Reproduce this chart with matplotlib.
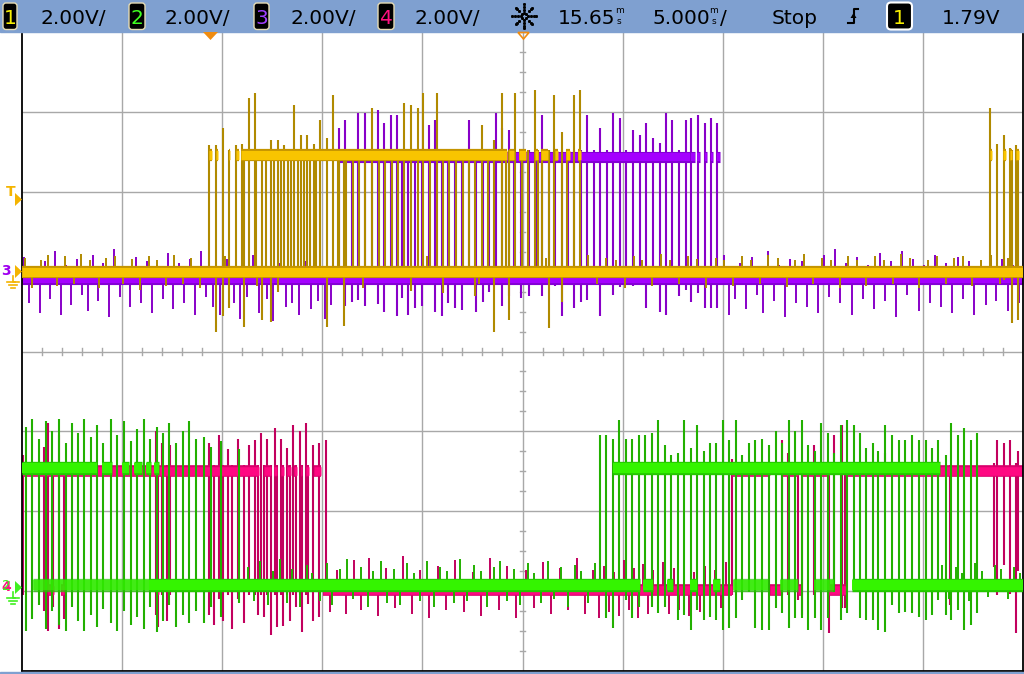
#!/usr/bin/env python3
"""Scope capture redraw: 4 channels, 2 V/div, 5 ms/div, stopped."""

import math
import matplotlib
matplotlib.use('Agg')
import matplotlib.pyplot as plt
from matplotlib.patches import Rectangle, Polygon, FancyBboxPatch

W, H = 1024, 674
T_CENTER = 15.65      # ms, screen centre
T_PER_DIV = 5.0       # ms/div
V_PER_DIV = 2.0       # V/div

# channel position on screen (divisions above centre) and logic levels (V)
CH1_POS, CH3_POS = 1.0, 1.0
CH2_POS, CH4_POS = -2.95, -2.95
ch1_low, ch1_high = 0.0, 2.92
ch3_low, ch3_high = -0.18, 2.88
ch2_low, ch2_high = 0.05, 2.98
ch4_low, ch4_high = -0.08, 2.92

# ---- channel 1 (yellow) ----
ch1_low_spans = [(-9.35, 40.65)]
ch1_high_spans = [(0.0, 0.15), (0.33, 0.43), (0.97, 1.05), (1.33, 1.47), (1.6, 14.9),
                  (15.0, 15.25), (15.47, 15.8), (16.25, 16.4), (16.58, 16.92),
                  (17.25, 17.42), (17.83, 18.0), (18.42, 18.58),
                  (39.0, 39.1), (39.65, 39.8), (40.0, 40.1), (40.3, 40.45)]
# (time ms, top V, bottom V)
ch1_edges = [
    (0.00, 3.18, -0.15), (0.33, 3.18, -1.50), (0.67, 3.60, -1.10), (1.00, 3.05, -0.90),
    (1.33, 3.18, -0.15), (1.62, 3.20, -0.15), (1.72, 3.05, -1.38), (1.97, 4.35, -0.15),
    (2.27, 4.48, -0.15), (2.33, 3.05, -0.15), (2.63, 3.05, -1.20), (2.83, 3.05, -0.15),
    (3.08, 3.30, -1.25), (3.25, 3.05, -0.15), (3.42, 3.30, -0.50), (3.58, 3.05, -0.15),
    (3.75, 3.18, -0.15), (3.92, 3.05, -0.15), (4.08, 3.05, -0.15), (4.22, 4.18, -0.15),
    (4.42, 3.05, -0.15), (4.58, 3.42, -0.15), (4.75, 3.05, -0.15), (4.87, 3.42, -0.15),
    (5.03, 3.05, -0.15), (5.22, 3.20, -0.15), (5.33, 3.05, -0.15), (5.53, 3.80, -0.15),
    (5.87, 3.35, -1.38), (6.17, 4.42, -0.15), (6.45, 3.05, -0.15), (6.50, 3.05, -0.15),
    (6.75, 3.05, -1.35), (6.83, 3.05, -0.15), (7.17, 3.05, -0.15), (7.50, 3.05, -0.15),
    (7.80, 3.05, -0.15), (8.15, 4.10, -0.15), (8.47, 3.05, -0.15), (8.78, 3.05, -0.15),
    (9.12, 3.05, -0.15), (9.42, 3.05, -0.15), (9.75, 4.22, -0.15), (10.08, 4.18, -0.48),
    (10.42, 4.10, -0.15), (10.70, 4.48, -0.15), (11.03, 3.05, -0.15), (11.37, 4.48, -0.15),
    (11.67, 3.05, -0.53), (12.00, 3.05, -0.15), (12.33, 3.05, -0.15), (12.67, 3.05, -0.15),
    (13.00, 3.05, -0.15), (13.30, 3.05, -0.60), (13.63, 3.68, -0.15), (13.92, 3.05, -0.15),
    (14.22, 3.30, -1.50), (14.62, 4.48, -0.15), (14.83, 3.05, -0.15), (14.97, 3.05, -1.20),
    (15.28, 4.48, -0.15), (15.63, 3.05, -0.15), (15.92, 3.05, -0.15), (16.25, 4.55, -0.15),
    (16.43, 3.05, -0.15), (16.62, 3.05, -0.15), (16.95, 3.05, -1.40), (17.22, 4.42, -0.15),
    (17.62, 3.50, -0.75), (17.88, 3.05, -0.15), (18.22, 4.42, -0.15), (18.52, 4.55, -0.15),
    (39.00, 4.10, -0.15), (39.35, 3.20, -0.15), (39.68, 3.42, -0.20), (40.02, 3.10, -0.15),
    (40.08, 3.05, -1.28), (40.32, 3.18, -0.15), (40.42, 3.05, -1.22),
]
# (time ms, spike relative to low level V)
ch1_noise = [
    (-9.2, 0.35), (-8.85, -0.4), (-8.4, 0.3), (-8.05, 0.42), (-7.6, -0.35), (-7.2, 0.38),
    (-6.75, -0.3), (-6.4, 0.45), (-5.95, 0.3), (-5.5, -0.42), (-5.15, 0.35), (-4.7, 0.4),
    (-4.3, -0.3), (-3.85, 0.32), (-3.45, -0.45), (-3.0, 0.38), (-2.6, 0.3), (-2.15, -0.35),
    (-1.75, 0.42), (-1.3, -0.3), (-0.9, 0.35), (-0.45, -0.4), (0.8, 0.4), (2.4, -0.35),
    (4.9, 0.35), (7.7, -0.4), (10.9, 0.4), (13.5, -0.3), (16.8, 0.35), (18.9, 0.42),
    (19.35, -0.3), (19.8, 0.35), (20.3, 0.3), (20.75, -0.4), (21.2, 0.38), (21.6, 0.3),
    (22.1, -0.35), (22.55, 0.45), (23.0, 0.3), (23.45, -0.3), (23.9, 0.4), (24.35, 0.32),
    (24.8, -0.42), (25.3, 0.35), (25.7, 0.3), (26.15, -0.35), (26.6, 0.4), (27.05, 0.3),
    (27.5, -0.3), (27.9, 0.42), (28.4, 0.35), (28.85, -0.38), (29.25, 0.3), (29.7, 0.45),
    (30.15, -0.3), (30.6, 0.35), (31.05, 0.3), (31.5, -0.42), (31.9, 0.38), (32.35, 0.3),
    (32.8, -0.35), (33.25, 0.4), (33.7, 0.3), (34.15, -0.3), (34.55, 0.45), (35.0, 0.35),
    (35.45, -0.4), (35.9, 0.3), (36.35, 0.38), (36.8, -0.3), (37.2, 0.35), (37.65, 0.4),
    (38.1, -0.35), (38.55, 0.3), (39.05, 0.42), (39.5, -0.3), (39.9, 0.35), (40.35, 0.3),
]

# ---- channel 3 (purple) ----
ch3_low_spans = [(-9.35, 40.65)]
ch3_high_spans = [(6.5, 24.0), (24.05, 24.25), (24.35, 24.5), (24.75, 24.85),
                  (25.05, 25.15), (25.35, 25.5)]
ch3_edges = [
    (6.50, 3.60, -0.33), (6.80, 3.80, -0.85), (7.15, 3.05, -0.75), (7.45, 3.98, -0.72),
    (7.80, 3.98, -0.85), (8.15, 3.05, -0.33), (8.45, 4.05, -0.82), (8.75, 3.72, -1.00),
    (9.10, 3.92, -0.33), (9.40, 3.92, -1.10), (9.63, 3.05, -0.65), (9.95, 3.05, -1.08),
    (10.30, 3.05, -0.90), (10.62, 3.05, -0.85), (10.97, 3.68, -0.33), (11.30, 3.80, -1.00),
    (11.62, 3.05, -1.10), (11.95, 3.05, -0.78), (12.30, 3.05, -0.90), (12.63, 3.05, -0.95),
    (13.00, 3.80, -0.33), (13.33, 3.05, -1.02), (13.67, 3.05, -0.75), (14.00, 3.05, -0.50),
    (14.33, 3.98, -0.33), (14.63, 3.60, -0.85), (14.97, 3.55, -0.60), (15.25, 3.05, -0.33),
    (15.60, 3.05, -0.65), (15.95, 3.05, -0.62), (16.30, 3.05, -0.33), (16.62, 3.92, -0.62),
    (16.95, 3.05, -0.33), (17.28, 3.05, -0.35), (17.62, 3.05, -1.12), (17.92, 3.05, -0.33),
    (18.22, 3.05, -0.90), (18.55, 3.05, -0.75), (18.87, 3.92, -0.72), (19.20, 3.05, -0.33),
    (19.50, 3.60, -1.10), (19.87, 3.05, -0.33), (20.17, 3.98, -0.58), (20.50, 3.85, -0.38),
    (20.83, 3.05, -0.33), (21.17, 3.55, -0.35), (21.50, 3.42, -0.33), (21.83, 3.72, -0.90),
    (22.17, 3.35, -0.33), (22.50, 3.22, -1.02), (22.83, 3.98, -1.08), (23.13, 3.80, -0.33),
    (23.47, 3.05, -0.60), (23.80, 3.80, -0.45), (24.08, 3.85, -0.75), (24.42, 3.92, -0.53),
    (24.75, 3.72, -0.90), (25.08, 3.85, -0.90), (25.38, 3.72, -0.90),
]
ch3_noise = [
    (-9.25, 0.55), (-9.0, -0.6), (-8.75, 0.3), (-8.45, -0.85), (-8.2, 0.45), (-7.95, -0.5),
    (-7.7, 0.7), (-7.4, -0.9), (-7.15, 0.35), (-6.9, -0.65), (-6.6, 0.5), (-6.35, -0.4),
    (-6.05, -0.8), (-5.8, 0.6), (-5.55, -0.55), (-5.3, 0.4), (-5.0, -0.95), (-4.75, 0.75),
    (-4.45, -0.45), (-4.2, 0.3), (-3.95, -0.7), (-3.65, 0.55), (-3.4, -0.6), (-3.1, 0.45),
    (-2.85, -0.85), (-2.6, 0.35), (-2.3, -0.5), (-2.05, 0.65), (-1.8, -0.75), (-1.5, 0.4),
    (-1.25, -0.6), (-0.95, 0.5), (-0.7, -0.9), (-0.4, 0.7), (-0.15, -0.45),
    (0.2, -0.7), (0.55, -0.9), (0.9, 0.5), (1.25, -0.6), (1.55, -1.0), (1.9, -0.45),
    (2.2, 0.6), (2.5, -0.85), (2.9, -0.5), (3.2, -1.05), (3.5, 0.4), (3.85, -0.7),
    (4.15, -0.6), (4.5, -0.9), (4.8, 0.45), (5.1, -0.75), (5.45, -0.55), (5.8, -1.0),
    (6.1, -0.65),
    (25.7, 0.6), (25.95, -0.9), (26.25, -0.5), (26.5, 0.4), (26.8, -0.75), (27.1, 0.55),
    (27.35, -0.4), (27.65, -0.85), (27.9, 0.7), (28.2, -0.55), (28.45, 0.35), (28.75, -0.95),
    (29.0, 0.5), (29.3, -0.6), (29.6, 0.45), (29.85, -0.7), (30.15, 0.3), (30.4, -0.85),
    (30.7, 0.6), (30.95, -0.45), (31.25, 0.75), (31.5, -0.6), (31.8, 0.4), (32.1, -0.9),
    (32.35, 0.55), (32.65, -0.5), (32.9, 0.35), (33.2, -0.75), (33.5, 0.65), (33.75, -0.55),
    (34.05, 0.45), (34.3, -0.95), (34.6, 0.7), (34.85, -0.4), (35.15, 0.5), (35.45, -0.8),
    (35.7, 0.35), (36.0, -0.6), (36.25, 0.6), (36.55, -0.7), (36.8, 0.4), (37.1, -0.85),
    (37.4, 0.55), (37.65, -0.5), (37.95, 0.45), (38.2, -0.9), (38.5, 0.3), (38.8, -0.65),
    (39.05, 0.6), (39.3, -0.55), (39.6, 0.5), (39.9, -0.8), (40.15, 0.35), (40.45, -0.6),
]

# ---- channel 2 (green) ----
ch2_low_spans = [(-3.0, 21.5), (21.65, 22.15), (22.85, 23.15), (24.0, 24.35),
                 (25.15, 25.5), (32.1, 40.65)]
ch2_low_faint = [(-8.8, -3.0), (26.15, 27.9), (28.5, 29.4), (30.2, 31.2)]
ch2_high_spans = [(-9.35, -5.6), (-5.35, -4.85), (-4.35, -4.0), (-3.75, -3.35),
                  (-3.15, -2.9), (-2.75, -2.5), (20.15, 36.5)]
ch2_edges = [
    (-9.17, 4.00, -1.10), (-8.83, 4.20, -0.80), (-8.50, 3.70, -0.45), (-8.17, 4.15, -1.05),
    (-7.83, 3.90, -0.60), (-7.50, 4.20, -0.95), (-7.17, 3.60, -1.10), (-6.87, 4.10, -0.50),
    (-6.55, 3.85, -0.85), (-6.25, 4.20, -1.10), (-5.92, 3.75, -0.70), (-5.62, 4.05, -1.00),
    (-5.30, 3.60, -0.55), (-4.88, 4.20, -0.90), (-4.58, 3.80, -1.10), (-4.25, 4.15, -0.60),
    (-3.92, 3.65, -0.95), (-3.62, 3.95, -0.75), (-3.28, 4.20, -1.05), (-2.97, 3.70, -0.50),
    (-2.62, 4.00, -1.12), (-2.33, 3.85, -0.85), (-2.00, 4.10, -0.45), (-1.67, 3.60, -1.00),
    (-1.33, 3.90, -0.70), (-1.00, 4.15, -0.90), (-0.67, 3.70, -0.60), (-0.25, 3.75, -0.90),
    (0.10, 3.50, -0.50), (0.60, 3.65, -0.75), (1.50, 3.45, -0.40),
    (19.50, 3.80, -0.12), (19.83, 3.80, -0.78), (20.17, 3.72, -1.02), (20.47, 4.18, -0.12),
    (20.80, 3.72, -0.32), (21.12, 3.72, -0.78), (21.47, 3.80, -0.50), (21.78, 3.80, -0.12),
    (22.12, 3.85, -0.50), (22.42, 4.18, -0.65), (22.77, 3.55, -0.50), (23.08, 3.30, -0.12),
    (23.42, 3.35, -0.82), (23.72, 4.18, -0.70), (24.08, 3.48, -1.08), (24.37, 4.05, -0.58),
    (24.70, 3.42, -0.82), (25.03, 3.60, -0.75), (25.33, 3.62, -0.82), (25.67, 4.18, -1.08),
    (25.97, 3.68, -1.02), (26.30, 4.18, -0.78), (26.63, 3.30, -0.32), (26.97, 3.60, -0.12),
    (27.28, 3.68, -1.02), (27.62, 3.72, -1.08), (27.97, 3.55, -1.08), (28.30, 3.92, -0.52),
    (28.62, 3.60, -0.65), (28.97, 4.18, -1.02), (29.28, 3.92, -0.78), (29.62, 4.18, -0.78),
    (29.92, 3.55, -1.08), (30.25, 3.42, -0.78), (30.57, 4.10, -1.08), (30.92, 3.85, -0.78),
    (31.22, 3.35, -0.12), (31.55, 4.05, -0.82), (31.87, 4.18, -0.65), (32.22, 4.05, -0.12),
    (32.50, 3.85, -0.78), (32.83, 3.48, -0.82), (33.17, 3.60, -0.82), (33.43, 3.42, -1.08),
    (33.78, 4.05, -1.12), (34.12, 3.80, -0.45), (34.45, 3.68, -0.65), (34.78, 3.68, -0.62),
    (35.10, 3.80, -0.65), (35.45, 3.68, -0.75), (35.78, 3.68, -0.82), (36.12, 3.48, -0.70),
    (36.42, 3.68, -0.32), (36.78, 3.30, -0.70), (37.05, 4.10, -0.82), (37.42, 3.80, -0.58),
    (37.72, 3.98, -1.08), (38.05, 3.68, -0.95), (38.37, 3.85, -0.65),
]
ch2_noise = [
    (1.95, 0.45), (2.25, -0.4), (2.55, 0.6), (2.95, -0.5), (3.2, 0.35), (3.55, 0.65),
    (3.9, -0.45), (4.15, 0.4), (4.55, -0.55), (4.9, 0.5), (5.15, 0.3), (5.55, -0.4),
    (5.9, 0.55), (6.15, -0.5), (6.55, 0.4), (6.9, 0.65), (7.2, -0.35), (7.6, 0.45),
    (7.95, -0.55), (8.2, 0.35), (8.6, 0.6), (8.9, -0.45), (9.25, 0.4), (9.55, -0.5),
    (9.9, 0.55), (10.25, 0.3), (10.55, -0.4), (10.9, 0.6), (11.25, -0.55), (11.55, 0.45),
    (11.9, 0.35), (12.25, -0.45), (12.55, 0.65), (12.9, -0.4), (13.25, 0.5), (13.6, 0.35),
    (13.9, -0.55), (14.25, 0.45), (14.55, 0.6), (14.9, -0.4), (15.25, 0.4), (15.55, -0.5),
    (15.9, 0.55), (16.2, 0.3), (16.55, -0.45), (16.9, 0.6), (17.2, -0.35), (17.55, 0.45),
    (17.9, -0.55), (18.25, 0.5), (18.55, 0.35), (18.9, -0.45), (19.25, 0.55),
    (36.6, 0.5), (36.95, -0.35), (37.3, 0.45), (37.6, 0.3), (37.95, -0.4), (38.25, 0.55),
    (38.6, 0.35), (38.9, -0.3), (39.25, 0.5), (39.55, 0.4), (39.9, -0.35), (40.2, 0.45),
    (40.5, 0.3),
]

# ---- channel 4 (pink) ----
ch4_low_spans = [(-8.05, -7.75), (-7.4, -7.25), (-2.65, -2.5), (5.7, 26.1),
                 (28.0, 28.6), (29.4, 29.6), (30.95, 31.85)]
ch4_high_spans = [(-9.35, 2.5), (2.75, 3.1), (3.25, 3.4), (3.6, 3.75), (3.9, 4.1),
                  (4.25, 4.4), (4.6, 4.65), (4.85, 5.0), (5.25, 5.6), (26.1, 28.0),
                  (28.6, 29.4), (29.6, 30.95), (31.85, 40.65)]
ch4_edges = [
    (-9.30, 3.30, -0.20), (-8.25, 3.50, -0.60), (-8.05, 4.10, -1.10), (-7.80, 3.05, -0.50),
    (-7.50, 3.80, -1.05), (-7.25, 3.05, -0.80), (-2.65, 3.90, -0.70), (-2.55, 3.05, -1.00),
    (-2.35, 3.60, -0.20), (-2.10, 3.05, -0.85), (-1.95, 3.55, -0.20), (0.00, 3.60, -0.70),
    (0.25, 3.05, -0.95), (0.50, 3.80, -0.30), (0.70, 3.05, -0.85), (0.95, 3.45, -0.20),
    (1.15, 3.05, -1.05), (1.45, 3.70, -0.30), (1.75, 3.05, -0.90), (2.00, 3.55, -0.20),
    (2.30, 3.68, -0.20), (2.45, 3.05, -0.70), (2.60, 3.85, -0.20), (2.75, 3.05, -0.75),
    (2.90, 3.72, -0.20), (3.10, 3.05, -1.20), (3.30, 3.98, -0.20), (3.40, 3.05, -1.00),
    (3.60, 3.72, -0.20), (3.70, 3.05, -0.98), (3.90, 3.48, -0.20), (4.05, 3.05, -0.85),
    (4.20, 4.05, -0.20), (4.35, 3.05, -0.50), (4.55, 3.92, -0.20), (4.65, 3.05, -1.12),
    (4.85, 4.10, -0.20), (4.95, 3.05, -0.42), (5.20, 3.55, -0.85), (5.50, 3.60, -0.75),
    (5.85, 3.68, -0.20),
    (26.10, 3.20, -0.20), (28.60, 3.68, -0.20), (28.90, 3.35, -0.20), (29.40, 3.05, -0.32),
    (29.60, 3.05, -0.70), (30.20, 3.55, -0.20), (30.95, 3.05, -1.15), (31.20, 3.80, -0.20),
    (31.60, 4.05, -0.52), (31.75, 3.05, -0.52), (33.75, 3.35, 2.90), (37.00, 3.05, -0.45),
    (39.20, 3.10, 0.50), (39.35, 3.68, -0.20), (39.70, 3.60, 0.55), (40.00, 3.68, -0.18),
    (40.30, 3.10, -1.15), (40.42, 3.40, 0.40),
]
ch4_noise = [
    (6.05, -0.55), (6.4, 0.5), (6.85, -0.6), (7.25, 0.75), (7.6, -0.5), (8.0, 0.8),
    (8.45, -0.65), (8.85, 0.55), (9.3, -0.45), (9.7, 0.85), (10.15, -0.6), (10.55, 0.5),
    (11.0, -0.7), (11.45, 0.6), (11.85, -0.5), (12.3, 0.75), (12.75, -0.55), (13.2, 0.45),
    (13.6, -0.65), (14.05, 0.8), (14.5, -0.5), (14.9, 0.6), (15.35, -0.7), (15.8, 0.5),
    (16.2, -0.45), (16.65, 0.7), (17.05, -0.6), (17.5, 0.55), (17.9, -0.5), (18.35, 0.8),
    (18.75, -0.6), (19.15, 0.5), (19.45, -0.7), (19.7, 0.6), (19.95, -0.55), (20.2, 0.45),
    (20.45, -0.65), (20.7, 0.75), (20.95, -0.5), (21.2, 0.55), (21.4, -0.7), (21.65, 0.65),
    (21.9, -0.6), (22.15, 0.5), (22.4, -0.45), (22.65, 0.7), (22.95, -0.6), (23.2, 0.55),
    (23.45, -0.5), (23.7, 0.8), (23.95, -0.65), (24.2, 0.45), (24.5, -0.55), (24.75, 0.6),
    (25.0, -0.6), (25.25, 0.5), (25.55, -0.45), (25.8, 0.7),
]

header_scales = ['2.00V/', '2.00V/', '2.00V/', '2.00V/']
header_time = ('15.65', '5.000')
trig_level = '1.79V'

YELLOW = dict(band='#f8c400', dark='#c49400', edge='#b08a00')
PURPLE = dict(band='#a400ff', dark='#8400d4', edge='#8800c8')
GREEN = dict(band='#34f400', dark='#24c800', edge='#22b000')
PINK = dict(band='#ff0882', dark='#d8006c', edge='#c2005e')


def ydiv(v, pos):
    return pos + v / V_PER_DIV


def bands(ax, spans, y, lw, col, z, alpha=1.0):
    x0 = [a for a, b in spans]
    x1 = [b for a, b in spans]
    ax.hlines([y] * len(spans), x0, x1, colors=col['dark'], linewidth=lw + 2.2,
              zorder=z, alpha=alpha)
    ax.hlines([y] * len(spans), x0, x1, colors=col['band'], linewidth=lw,
              zorder=z + 0.1, alpha=alpha)


def draw_channel(ax, pos, low, high, low_spans, high_spans, edges, noise, col, z,
                 lw_band, low_faint=()):
    ax.vlines([t for t, a in noise], ydiv(low, pos), [ydiv(low + a, pos) for t, a in noise],
              colors=col['edge'], linewidth=1.4, zorder=z)
    ax.vlines([e[0] for e in edges], [ydiv(e[2], pos) for e in edges],
              [ydiv(e[1], pos) for e in edges], colors=col['edge'], linewidth=1.5, zorder=z)
    if low_faint:
        bands(ax, low_faint, ydiv(low, pos), lw_band, col, z + 0.2, alpha=0.7)
    bands(ax, low_spans, ydiv(low, pos), lw_band, col, z + 0.2)
    bands(ax, high_spans, ydiv(high, pos), lw_band, col, z + 0.2)


fig = plt.figure(figsize=(W / 100, H / 100), dpi=100)
fig.patch.set_facecolor('white')

# graticule area: x 22..1023 px, y 32..671 px
ax = fig.add_axes([22 / W, 3 / H, 1001 / W, 639 / H])
t0 = T_CENTER - 5 * T_PER_DIV
t1 = T_CENTER + 5 * T_PER_DIV
ax.set_xlim(t0, t1)
ax.set_ylim(-4, 4)
ax.set_xticks([])
ax.set_yticks([])
for s in ax.spines.values():
    s.set_color('black')
    s.set_linewidth(1.3)

# grid
grid_c = '#a8a8a8'
ax.vlines([t0 + k * T_PER_DIV for k in range(1, 10)], -4, 4, colors=grid_c, linewidth=1.0, zorder=0)
ax.hlines([k for k in range(-3, 4)], t0, t1, colors=grid_c, linewidth=1.0, zorder=0)
for k in range(-16, 17):
    if k % 4:
        ax.plot([T_CENTER - 0.13, T_CENTER + 0.13], [k / 4, k / 4], color=grid_c, lw=1.0, zorder=0)
for k in range(-25, 26):
    if k % 5:
        ax.plot([T_CENTER + k, T_CENTER + k], [-0.04, 0.04], color=grid_c, lw=1.0, zorder=0)

draw_channel(ax, CH3_POS, ch3_low, ch3_high, ch3_low_spans, ch3_high_spans,
             ch3_edges, ch3_noise, PURPLE, 1, 5.8)
draw_channel(ax, CH1_POS, ch1_low, ch1_high, ch1_low_spans, ch1_high_spans,
             ch1_edges, ch1_noise, YELLOW, 3, 6.6)
draw_channel(ax, CH4_POS, ch4_low, ch4_high, ch4_low_spans, ch4_high_spans,
             ch4_edges, ch4_noise, PINK, 1, 6.2)
draw_channel(ax, CH2_POS, ch2_low, ch2_high, ch2_low_spans, ch2_high_spans,
             ch2_edges, ch2_noise, GREEN, 3, 7.4, low_faint=ch2_low_faint)

# ---- overlay in screen pixels: header bar, markers ----
ov = fig.add_axes([0, 0, 1, 1], zorder=10)
ov.set_xlim(0, W)
ov.set_ylim(H, 0)
ov.axis('off')
ov.patch.set_alpha(0)

HDR = '#7fa0d0'
ov.add_patch(Rectangle((0, 0), W, 31.5, color=HDR, zorder=0))
ov.add_patch(Rectangle((0, 672), W, 2, color=HDR, zorder=0))

FONT = 'DejaVu Sans'
FS = 14.5


def chan_box(x0, x1, digit, color):
    ov.add_patch(FancyBboxPatch((x0, 3), x1 - x0, 26.5, boxstyle='round,pad=0,rounding_size=3',
                                fc='black', ec='#e6dcb4', lw=1.0, zorder=2))
    ov.text((x0 + x1) / 2, 23.5, digit, color=color, fontsize=FS, ha='center',
            va='baseline', family=FONT, zorder=3)


box_x = [(3, 17), (129, 145), (254, 269), (378, 394)]
box_c = ['#f8f000', '#40ff20', '#a040ff', '#ff1080']
scale_x = [40, 165, 290, 415]
for i in range(4):
    chan_box(box_x[i][0], box_x[i][1], str(i + 1), box_c[i])
    ov.text(scale_x[i], 23.5, header_scales[i], fontsize=FS, ha='left', va='baseline',
            family=FONT, color='black', zorder=3)

# acquisition "starburst" icon (dotted rays)
for k in range(8):
    ang = k * math.pi / 4
    for r in (3.5, 6.5, 9.5, 12.0):
        ov.plot(524 + r * math.cos(ang), 16 + r * math.sin(ang), 's', ms=1.1,
                color='black', zorder=3)


def unit_stack(x):
    ov.text(x, 13.0, 'm', fontsize=6.5, ha='center', va='baseline', family=FONT, zorder=3)
    ov.text(x, 23.5, 's', fontsize=6.5, ha='center', va='baseline', family=FONT, zorder=3)


ov.text(558, 23.5, header_time[0], fontsize=FS, ha='left', va='baseline', family=FONT, zorder=3)
unit_stack(619)
ov.text(652, 23.5, header_time[1], fontsize=FS, ha='left', va='baseline', family=FONT, zorder=3)
unit_stack(714)
ov.text(720, 23.5, '/', fontsize=FS, ha='left', va='baseline', family=FONT, zorder=3)
ov.text(772, 23.5, 'Stop', fontsize=FS, ha='left', va='baseline', family=FONT, zorder=3)

# trigger slope icon
ov.plot([858, 853.5, 853.5, 848], [9, 9, 23, 23], color='black', lw=1.5, zorder=3)
ov.add_patch(Polygon([(850.5, 18), (856.5, 18), (853.5, 13)], closed=True, fc='black', zorder=3))

ov.add_patch(FancyBboxPatch((887, 2.5), 25, 27, boxstyle='round,pad=0,rounding_size=4',
                            fc='black', ec='white', lw=1.5, zorder=2))
ov.text(899.5, 23.5, '1', color='#f8f000', fontsize=FS, ha='center', va='baseline',
        family=FONT, zorder=3)
ov.text(942, 23.5, trig_level, fontsize=FS, ha='left', va='baseline', family=FONT, zorder=3)

# trigger position / delay markers on the top edge
ORANGE = '#f08c10'
ov.add_patch(Polygon([(203, 32), (218, 32), (210.5, 40)], closed=True, fc=ORANGE, zorder=3))
ov.add_patch(Polygon([(518, 32.5), (529, 32.5), (523.5, 39)], closed=True, fill=False,
                     ec=ORANGE, lw=1.2, zorder=3))

# left-edge markers: trigger level, ch1/ch3 and ch2/ch4 grounds
TRIG_C = '#f4b400'
ov.text(11, 192, 'T', color=TRIG_C, fontsize=10, fontweight='bold', ha='center',
        va='center', family=FONT, zorder=3)
ov.add_patch(Polygon([(15, 193), (15, 206), (22, 199.5)], closed=True, fc=TRIG_C, zorder=3))

ov.text(6, 271, '3', color='#a000f0', fontsize=10, fontweight='bold', ha='center',
        va='center', family=FONT, zorder=3)
ov.add_patch(Polygon([(15, 265), (15, 278), (22, 271.5)], closed=True, fc=TRIG_C, zorder=3))
ov.plot([12.5, 12.5, 15], [276, 282, 282], color=TRIG_C, lw=1.2, zorder=3)
for w, yy in ((6, 282), (4, 285), (2, 288)):
    ov.plot([12.5 - w, 12.5 + w], [yy, yy], color=TRIG_C, lw=1.2, zorder=3)

ov.text(6, 587, '4', color='#ff1080', fontsize=10, fontweight='bold', ha='center',
        va='center', family=FONT, zorder=3)
ov.text(6, 586, '2', color='#40f020', fontsize=10, ha='center', va='center',
        family=FONT, zorder=4)
ov.add_patch(Polygon([(15, 581), (15, 594), (22, 587.5)], closed=True, fc='#40f020', zorder=3))
ov.plot([12.5, 12.5, 15], [592, 598, 598], color='#40f020', lw=1.2, zorder=3)
for w, yy in ((6, 598), (4, 601), (2, 604)):
    ov.plot([12.5 - w, 12.5 + w], [yy, yy], color='#40f020', lw=1.2, zorder=3)

fig.savefig('out.png', dpi=100, facecolor='white')
plt.close(fig)
